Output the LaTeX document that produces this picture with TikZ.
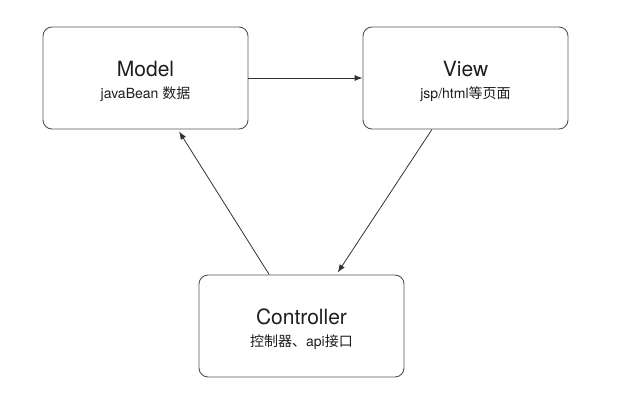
\documentclass[tikz,border=0pt]{standalone}
\usepackage{fontspec}
\setmainfont{TeX Gyre Heros}
\newfontfamily\cjk{Noto Sans CJK SC}
\usetikzlibrary{arrows.meta,calc}
\definecolor{boxline}{HTML}{555555}
\definecolor{arrline}{HTML}{333333}
\definecolor{txt}{HTML}{1E1E1E}
\tikzset{
  box/.style={draw=boxline,line width=0.9pt,rounded corners=9pt,minimum width=205pt,minimum height=102pt,inner sep=0pt},
  ttl/.style={anchor=base,text=txt,font=\fontsize{21}{24}\selectfont,inner sep=0pt},
  sub/.style={anchor=base,text=txt,font=\fontsize{14}{17}\selectfont,inner sep=0pt},
  arr/.style={draw=arrline,line width=0.8pt,-{Latex[length=8pt,width=6pt]}}
}
\begin{document}
\begin{tikzpicture}[x=1pt,y=-1pt]
\useasboundingbox[fill=white] (0,0) rectangle (640,415);
\node[box] (model) at (145.5,78) {};
\node[box] (view) at (465.5,78) {};
\node[box] (ctrl) at (301.5,326) {};
\node[ttl] (mt) at (145.5,76) {Model};
\node[sub] (ms) at (145.5,98) {javaBean {\cjk 数据}};
\node[ttl] (vt) at (465.5,76) {View};
\node[sub] (vs) at (465.5,98) {jsp/html{\cjk 等页面}};
\node[ttl] (ct) at (301.5,324) {Controller};
\node[sub] (cs) at (301.5,346) {{\cjk 控制器、}api{\cjk 接口}};
\draw[arr] (model.east) -- (view.west);
\coordinate (v1) at ($(view.south west)!0.337!(view.south east)$);
\coordinate (c1) at ($(ctrl.north west)!0.676!(ctrl.north east)+(0,-2)$);
\draw[arr] (v1) -- (c1);
\coordinate (c2) at ($(ctrl.north west)!0.343!(ctrl.north east)$);
\coordinate (m1) at ($(model.south west)!0.663!(model.south east)+(0,2)$);
\draw[arr] (c2) -- (m1);
\end{tikzpicture}
\end{document}
